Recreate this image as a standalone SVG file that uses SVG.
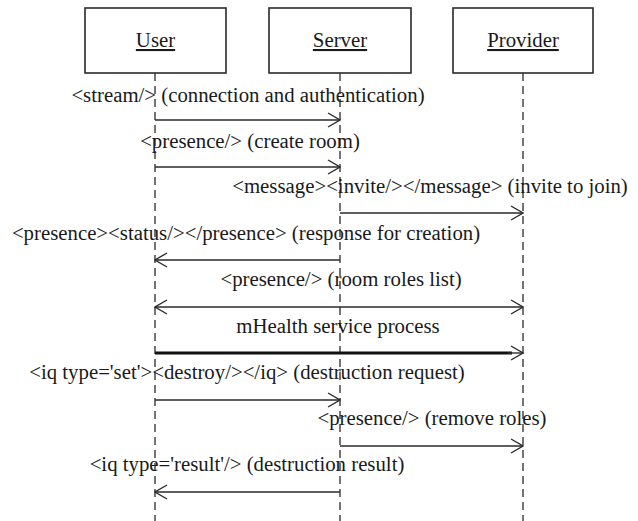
<svg xmlns="http://www.w3.org/2000/svg" width="638" height="521" viewBox="0 0 638 521">
  <style>
    .box { fill: #ffffff; stroke: #2a2a2a; stroke-width: 1.6; }
    .name { font-family: 'Liberation Serif', 'Times New Roman', serif; font-size: 20.8px; fill: #1a1a1a; text-anchor: middle; text-decoration: underline; }
    .life { stroke: #2a2a2a; stroke-width: 1.3; stroke-dasharray: 8 5; fill: none; }
    .msg { stroke: #2a2a2a; stroke-width: 1.4; fill: none; }
    .thick { stroke: #111111; stroke-width: 2.8; fill: none; }
    .label { font-family: 'Liberation Serif', 'Times New Roman', serif; font-size: 20.8px; fill: #1a1a1a; text-anchor: middle; }
  </style>
  <defs>
    <marker id="arrow" viewBox="-13 -8 14 16" refX="0" refY="0" markerWidth="14" markerHeight="16" markerUnits="userSpaceOnUse" orient="auto-start-reverse">
      <path d="M-12,-7 L0,0 L-12,7" fill="none" stroke="#2a2a2a" stroke-width="1.4"/>
    </marker>
  </defs>

  <rect width="638" height="521" fill="#ffffff"/>

  <!-- participants -->
  <g id="user">
    <rect class="box" x="85" y="8" width="141" height="65"/>
    <text class="name" x="155.5" y="47">User</text>
  </g>
  <g id="server">
    <rect class="box" x="269" y="8" width="142" height="65"/>
    <text class="name" x="340" y="47">Server</text>
  </g>
  <g id="provider">
    <rect class="box" x="453" y="8" width="140" height="65"/>
    <text class="name" x="523" y="47">Provider</text>
  </g>

  <!-- lifelines -->
  <g id="lifelines">
    <line class="life" x1="155" y1="73" x2="155" y2="521"/>
    <line class="life" x1="340" y1="73" x2="340" y2="521"/>
    <line class="life" x1="523" y1="73" x2="523" y2="521"/>
  </g>

  <!-- messages -->
  <g id="connectors">
    <line class="msg" x1="155" y1="120" x2="340" y2="120" marker-end="url(#arrow)"/>
    <line class="msg" x1="155" y1="167" x2="340" y2="167" marker-end="url(#arrow)"/>
    <line class="msg" x1="340" y1="213" x2="523" y2="213" marker-end="url(#arrow)"/>
    <line class="msg" x1="340" y1="260" x2="155" y2="260" marker-end="url(#arrow)"/>
    <line class="msg" x1="155" y1="307" x2="523" y2="307" marker-start="url(#arrow)" marker-end="url(#arrow)"/>
    <line class="thick" x1="155" y1="353" x2="512" y2="353"/>
    <line class="msg" x1="508" y1="353" x2="523" y2="353" marker-end="url(#arrow)"/>
    <line class="msg" x1="155" y1="400" x2="340" y2="400" marker-end="url(#arrow)"/>
    <line class="msg" x1="340" y1="446" x2="523" y2="446" marker-end="url(#arrow)"/>
    <line class="msg" x1="340" y1="492" x2="155" y2="492" marker-end="url(#arrow)"/>
  </g>

  <!-- message labels, centred over the span of each message -->
  <g id="labels">
    <text class="label" x="248" y="102">&lt;stream/&gt; (connection and authentication)</text>
    <text class="label" x="250" y="148">&lt;presence/&gt; (create room)</text>
    <text class="label" x="430" y="193">&lt;message&gt;&lt;invite/&gt;&lt;/message&gt; (invite to join)</text>
    <text class="label" x="246" y="240">&lt;presence&gt;&lt;status/&gt;&lt;/presence&gt; (response for creation)</text>
    <text class="label" x="341" y="286">&lt;presence/&gt; (room roles list)</text>
    <text class="label" x="338" y="333">mHealth service process</text>
    <text class="label" x="247" y="379">&lt;iq type='set'&gt;&lt;destroy/&gt;&lt;/iq&gt; (destruction request)</text>
    <text class="label" x="432" y="425">&lt;presence/&gt; (remove roles)</text>
    <text class="label" x="247" y="471">&lt;iq type='result'/&gt; (destruction result)</text>
  </g>
</svg>
